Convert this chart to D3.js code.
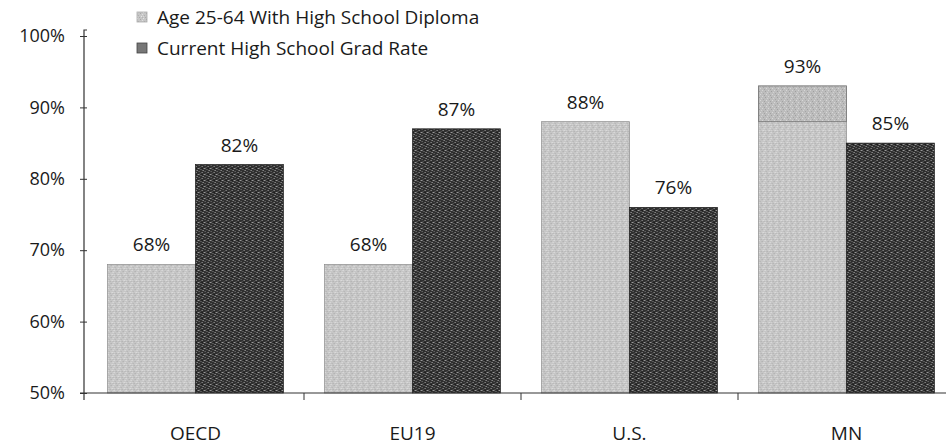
<!DOCTYPE html>
<html>
<head>
<meta charset="utf-8">
<script src="https://cdn.jsdelivr.net/npm/d3@7"></script>
<style>
  body { margin: 0; background: #fff; }
  svg { display: block; font-family: "Open Sans", sans-serif; }
</style>
</head>
<body>
<svg id="chart" width="946" height="445"></svg>
<script>
const categories = ["OECD", "EU19", "U.S.", "MN"];
const seriesLabels = ["Age 25-64 With High School Diploma", "Current High School Grad Rate"];
const diploma = [68, 68, 88, 93];
const gradRate = [82, 87, 76, 85];
// MN's light bar shows a lighter part up to the U.S. level
const mnSplit = 88;
const yTicks = [50, 60, 70, 80, 90, 100];

const textColor = "#1a1a1a";
const fontSize = 19;
const tickFontSize = 18;

const svg = d3.select("#chart");
const margin = { left: 87, bottom: 393, top: 36 };

// Textured fills
const defs = svg.append("defs");
const makePattern = (id, base, dots) => {
  const p = defs.append("pattern")
    .attr("id", id)
    .attr("width", 6)
    .attr("height", 6)
    .attr("patternUnits", "userSpaceOnUse");
  p.append("rect").attr("width", 6).attr("height", 6).attr("fill", base);
  dots.forEach(([x, y, c]) => {
    p.append("rect").attr("x", x).attr("y", y).attr("width", 1).attr("height", 1).attr("fill", c);
  });
};
makePattern("lightFill", "#c6c6c6", [
  [0, 0, "#e4e4e4"], [3, 1, "#a9a9a9"], [5, 2, "#e0e0e0"], [1, 3, "#b0b0b0"],
  [4, 4, "#e6e6e6"], [2, 5, "#acacac"], [0, 4, "#d8d8d8"], [5, 5, "#b4b4b4"]
]);
makePattern("lightFillDark", "#bdbdbd", [
  [0, 0, "#d6d6d6"], [3, 1, "#a0a0a0"], [5, 2, "#d2d2d2"], [1, 3, "#a6a6a6"],
  [4, 4, "#d8d8d8"], [2, 5, "#a3a3a3"]
]);
makePattern("darkFill", "#2f2f2f", [
  [0, 0, "#a0a0a0"], [3, 1, "#6e6e6e"], [5, 2, "#b5b5b5"], [1, 3, "#7a7a7a"],
  [4, 4, "#a8a8a8"], [2, 5, "#5e5e5e"], [2, 1, "#4a4a4a"], [4, 0, "#111"],
  [1, 0, "#8a8a8a"]
]);

const x0 = d3.scaleBand()
  .domain(categories)
  .range([margin.left, margin.left + 4 * 217])
  .paddingInner(0.19)
  .paddingOuter(0.095);
const x1 = d3.scaleBand().domain([0, 1]).range([0, x0.bandwidth()]);
const y = d3.scaleLinear().domain([50, 100]).range([margin.bottom, margin.top]);

const rows = categories.map((c, i) => ({ cat: c, vals: [diploma[i], gradRate[i]] }));

// Bars
const groups = svg.append("g").selectAll("g")
  .data(rows)
  .join("g")
  .attr("transform", (d) => `translate(${x0(d.cat)},0)`);

groups.selectAll("rect.bar")
  .data((d) => d.vals.map((v, s) => ({ cat: d.cat, v, s })))
  .join("rect")
  .attr("class", "bar")
  .attr("x", (d) => x1(d.s))
  .attr("width", x1.bandwidth())
  .attr("y", (d) => y(d.v))
  .attr("height", (d) => y(50) - y(d.v))
  .attr("fill", (d) => (d.s === 0 ? "url(#lightFill)" : "url(#darkFill)"))
  .attr("stroke", (d) => (d.s === 0 ? "#8a8a8a" : "#1a1a1a"))
  .attr("stroke-width", 0.7);

// MN top segment above the split
const mnIdx = categories.indexOf("MN");
svg.append("rect")
  .attr("x", x0("MN") + x1(0))
  .attr("width", x1.bandwidth())
  .attr("y", y(diploma[mnIdx]))
  .attr("height", y(mnSplit) - y(diploma[mnIdx]))
  .attr("fill", "url(#lightFillDark)")
  .attr("stroke", "#777")
  .attr("stroke-width", 0.8);

// Value labels
groups.selectAll("text.val")
  .data((d) => d.vals.map((v, s) => ({ v, s })))
  .join("text")
  .attr("class", "val")
  .attr("x", (d) => x1(d.s) + x1.bandwidth() / 2)
  .attr("y", (d) => y(d.v) - 13)
  .attr("text-anchor", "middle")
  .style("font-size", `${fontSize}px`)
  .style("fill", textColor)
  .text((d) => `${d.v}%`);

// Y axis
const yAxis = svg.append("g")
  .attr("transform", `translate(${margin.left},0)`)
  .call(d3.axisLeft(y).tickValues(yTicks).tickSize(7).tickSizeOuter(0).tickPadding(15).tickFormat((d) => `${d}%`));
yAxis.select(".domain").attr("stroke", "#333").attr("stroke-width", 1.2)
  .attr("d", `M0,${margin.top - 6}H-3V${margin.bottom + 7}`);
yAxis.selectAll(".tick line").attr("stroke", "#333");
yAxis.selectAll(".tick text").style("font-size", `${tickFontSize}px`).style("fill", textColor).style("font-family", "Open Sans");

// X axis
const xAxis = svg.append("g");
xAxis.append("line")
  .attr("x1", margin.left - 7)
  .attr("x2", 946)
  .attr("y1", margin.bottom)
  .attr("y2", margin.bottom)
  .attr("stroke", "#333")
  .attr("stroke-width", 1.2);
xAxis.selectAll("line.tick")
  .data(categories.slice(1))
  .join("line")
  .attr("class", "tick")
  .attr("x1", (d) => x0(d) - x0.step() * 0.095)
  .attr("x2", (d) => x0(d) - x0.step() * 0.095)
  .attr("y1", margin.bottom)
  .attr("y2", margin.bottom + 7)
  .attr("stroke", "#333");
xAxis.selectAll("text")
  .data(categories)
  .join("text")
  .attr("x", (d) => x0(d) + x0.bandwidth() / 2)
  .attr("y", 440)
  .attr("text-anchor", "middle")
  .style("font-size", `${fontSize}px`)
  .style("fill", textColor)
  .text((d) => d);

// Legend
const legend = svg.append("g").attr("transform", "translate(137,0)");
const legendY = [17, 48];
seriesLabels.forEach((label, i) => {
  legend.append("rect")
    .attr("x", 0)
    .attr("y", legendY[i] - 5)
    .attr("width", 10)
    .attr("height", 10)
    .attr("fill", i === 0 ? "url(#lightFill)" : "#777")
    .attr("stroke", i === 0 ? "#aaa" : "#444")
    .attr("stroke-width", 0.8);
  legend.append("text")
    .attr("x", 20)
    .attr("y", legendY[i])
    .attr("dy", "0.35em")
    .style("font-size", `${fontSize}px`)
    .style("fill", textColor)
    .text(label);
});
</script>
</body>
</html>
